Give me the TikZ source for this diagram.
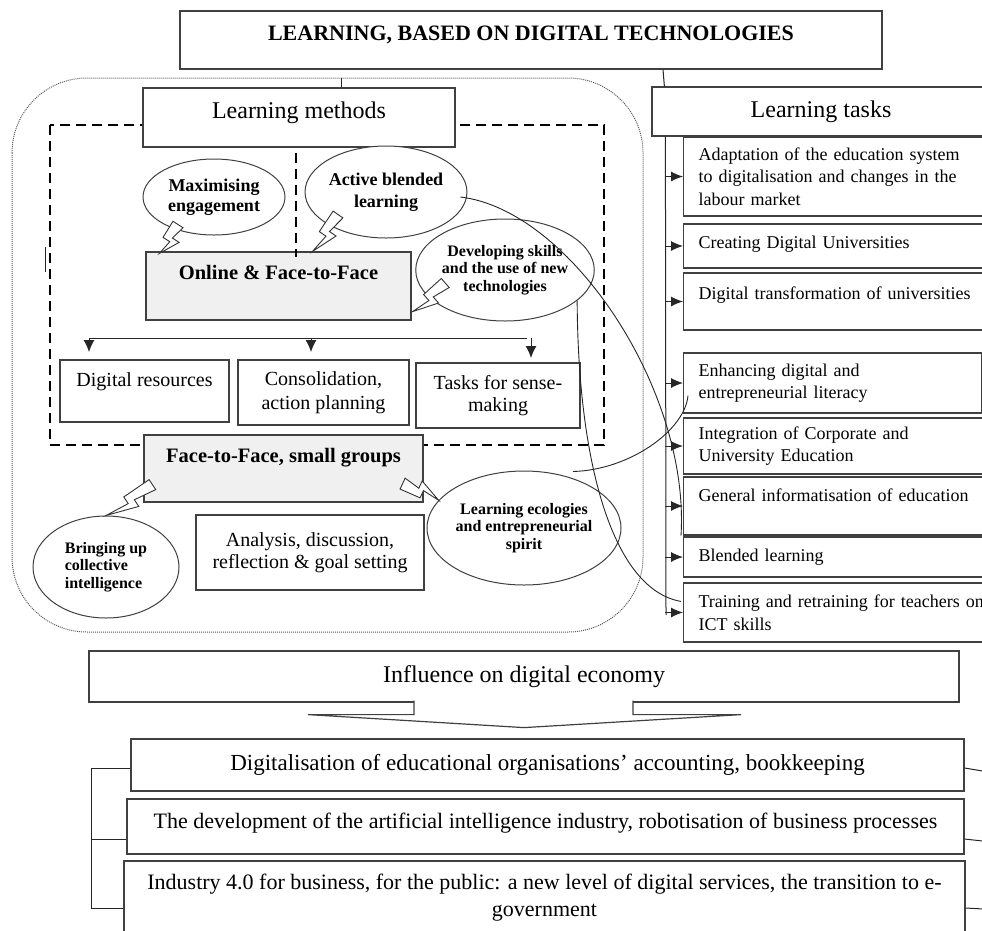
\documentclass[tikz,border=0pt]{standalone}
\usepackage{fontspec}
\setmainfont{Liberation Serif}
\usetikzlibrary{positioning}
\usetikzlibrary{calc}
\usetikzlibrary{shapes.geometric}
\usetikzlibrary{arrows.meta}

\newcommand{\boltto}[2]{%
	\draw[bolt] ($(#1)!6pt!-90:(#2)$) -- ($(#1)!6pt!90:(#2)$)
		-- ($(#1)!0.42!(#2)!2.6pt!90:(#2)$) -- ($(#1)!0.42!(#2)!10.6pt!90:(#2)$)
		-- (#2) -- ($(#1)!0.55!(#2)!2.4pt!90:(#2)$)
		-- ($(#1)!0.55!(#2)!5.6pt!-90:(#2)$) -- cycle;}

\begin{document}
\begin{tikzpicture}[x=1pt, y=-1pt, >={Latex[length=12pt,width=10pt]}]
		\tikzset{box/.style = {shape=rectangle, draw=black!75, line width=1.2pt, fill=white, inner sep=3pt, align=center, font=\fontsize{20}{22}\selectfont}}
		\tikzset{shaded/.style = {box, fill=black!6, font=\fontsize{20.5}{24}\selectfont\bfseries}}
		\tikzset{task/.style = {box, anchor=west, inner xsep=15pt, inner ysep=2pt, align=left, text width=287pt, font=\fontsize{18}{22.5}\selectfont}}
		\tikzset{wide/.style = {box, font=\fontsize{22}{27}\selectfont}}
		\tikzset{bubble/.style = {shape=ellipse, draw=black!75, line width=1pt, fill=white, inner sep=0pt, align=center, font=\fontsize{16}{17.5}\selectfont\bfseries}}
		\tikzset{bolt/.style = {draw=black!80, line width=0.9pt, fill=white, line join=miter}}
		\tikzset{link/.style = {draw=black!85, line width=1pt}}
		\tikzset{dashline/.style = {line width=1.8pt, dash pattern=on 10pt off 6pt}}
		\tikzset{down/.style = {link, -{Latex[length=12pt,width=11pt]}}}
		\useasboundingbox (0,0) rectangle (982,930);
		\clip (0,0) rectangle (982,930);
		\draw[densely dotted, line width=1pt, black!65, rounded corners=75pt] (12,78) rectangle (643,632);
		\draw[dashline] (50,125) rectangle (604,445);
		
		\node[box, minimum width=702pt, minimum height=58pt, text depth=14pt, font=\fontsize{22}{26}\selectfont\bfseries] (TOP) at (531,40) {LEARNING, BASED ON DIGITAL TECHNOLOGIES};
		\node[box, minimum width=312pt, minimum height=59pt, text depth=15pt, font=\fontsize{24}{28}\selectfont] (METHODS) at (299,117.5) {Learning methods};
		\node[box, minimum width=338pt, minimum height=49pt, font=\fontsize{24}{28}\selectfont] (TASKS) at (821,111.5) {Learning tasks};
		
		\node[shaded, minimum width=265pt, minimum height=68pt, text depth=28pt] (ONLINE) at (278.5,286) {Online \& Face-to-Face};
		\node[box, minimum width=169pt, minimum height=62pt, text depth=22pt] (RES) at (144.5,391) {Digital resources};
		\node[box, minimum width=171pt, minimum height=65pt, font=\fontsize{20}{24}\selectfont] (CONS) at (323.5,392.5) {Consolidation,\\action planning};
		\node[box, minimum width=164pt, minimum height=65pt] (SENSE) at (498,395.5) {Tasks for sense-\\making};
		\node[shaded, minimum width=279pt, minimum height=67pt, text depth=27pt] (SMALL) at (283.5,468.5) {Face-to-Face, small groups};
		\node[box, minimum width=228pt, minimum height=75pt] (ANALYSIS) at (310,552.5) {Analysis, discussion,\\reflection \& goal setting};
		
		\node[bubble, minimum width=142pt, minimum height=76pt, font=\fontsize{18}{20}\selectfont\bfseries] (MAX) at (214,197) {Maximising\\engagement};
		\node[bubble, minimum width=158pt, minimum height=92pt, font=\fontsize{18}{22}\selectfont\bfseries] (ACTIVE) at (386,192) {Active blended\\learning};
		\node[bubble, minimum width=176pt, minimum height=102pt] (SKILLS) at (505,270) {Developing skills\\and the use of new\\technologies};
		\node[bubble, minimum width=146pt, minimum height=102pt, align=left] (COLLECT) at (106,567) {Bringing up\\collective\\intelligence};
		\node[bubble, minimum width=194pt, minimum height=114pt] (ECO) at (524,528) {Learning ecologies\\and entrepreneurial\\spirit};
		
		\node[task, minimum height=79pt] (T1) at (683,176.5) {Adaptation of the education system\\to digitalisation and changes in the\\labour market};
		\node[task, minimum height=44pt, text depth=8pt] (T2) at (683,246) {Creating Digital Universities};
		\node[task, minimum height=57pt, text depth=17pt] (T3) at (683,301.5) {Digital transformation of universities};
		\node[task, minimum height=60pt, text width=268pt] (T4) at (683,383) {Enhancing digital and\\entrepreneurial literacy};
		\node[task, minimum height=56pt] (T5) at (683,446) {Integration of Corporate and\\University Education};
		\node[task, minimum height=58pt, text depth=22pt] (T6) at (683,506) {General informatisation of education};
		\node[task, minimum height=40pt] (T7) at (683,557) {Blended learning};
		\node[task, minimum height=59pt] (T8) at (683,612.5) {Training and retraining for teachers on\\ICT skills};
		
		\node[wide, minimum width=870pt, minimum height=51pt, font=\fontsize{24}{28}\selectfont] (INFL) at (524,676.5) {Influence on digital economy};
		\node[wide, minimum width=833pt, minimum height=52pt, font=\fontsize{23}{27}\selectfont] (DIG) at (547.5,765) {Digitalisation of educational organisations' accounting, bookkeeping};
		\node[wide, minimum width=837pt, minimum height=55pt, text depth=11pt] (DEV) at (545.5,826.5) {The development of the artificial intelligence industry, robotisation of business processes};
		\node[wide, minimum width=841pt, minimum height=74pt] (IND) at (544.5,898) {Industry 4.0 for business, for the public: a new level of digital services, the transition to e-\\government};
		
		\draw[link, line width=1.2pt, draw=black!75, fill=white] ($(INFL.south)+(-110,-2)$) -- ++(0,14) -- ($(INFL.south)+(-216,12)$) -- ($(INFL.south)+(0,25)$) -- ($(INFL.south)+(217,12)$) -- ($(INFL.south)+(109,12)$) -- ++(0,-14);
		
		\coordinate (BR1) at (91,768);
		\coordinate (BR2) at (91,839);
		\coordinate (BR3) at (91,908);
		\draw[link] (BR1 -| DIG.west) -- (BR1) -- (BR3) -- (BR3 -| IND.west);
		\draw[link] (BR2) -- (BR2 -| DEV.west);
		\draw[link] (BR1 -| DIG.east) -- ++(18,3);
		\draw[link] (BR2 -| DEV.east) -- ++(18,2);
		\draw[link] (BR3 -| IND.east) -- ++(18,1);
		
		\coordinate (BUSW) at (89,338);
		\coordinate (BUSM) at (311,338);
		\coordinate (BUSE) at (527,338);
		\draw[link] (BUSW) -- (BUSE);
		\draw[down] (BUSW) -- ++(0,14);
		\draw[down] (BUSM) -- ++(0,14);
		\draw[down] ($(BUSE)+(4,0)$) -- ++(0,20);
		
		\coordinate (RAIL) at ($(TASKS.south west)+(14,0)$);
		\coordinate (RAILEND) at (666,615);
		\draw[link] (RAIL) -- (RAILEND);
		\draw[link, ->] (RAIL |- T1.west) -- (T1.west);
		\draw[link, ->] (RAIL |- T2.west) -- (T2.west);
		\draw[link, ->] (RAIL |- T3.west) -- (T3.west);
		\draw[link, ->] (RAIL |- T4.west) -- (T4.west);
		\draw[link, ->] (RAIL |- T5.west) -- (T5.west);
		\draw[link, ->] (RAIL |- T6.west) -- (T6.west);
		\draw[link, ->] (RAIL |- T7.west) -- (T7.west);
		\draw[link, ->] (RAIL |- T8.west) -- (T8.west);
		
		\draw[link] ($(TOP.south)+(132,0)$) -- ($(TASKS.north west)+(13,0)$);
		\draw[link] ($(METHODS.north)+(42,0)$) -- ++(0,-9);
		\draw[dashline] ($(METHODS.south)+(-3,5)$) -- ($(ONLINE.north)+(17.5,6)$);
		\draw[link] (45,247) -- (45,272);
		
		\coordinate (Z1) at ($(MAX.south)+(-36,-11)$);
		\coordinate (Z2) at ($(ACTIVE.south)+(-48,-24)$);
		\coordinate (Z3) at ($(SKILLS.west)+(30,13)$);
		\coordinate (Z4) at ($(SMALL.south west)+(9,-18)$);
		\coordinate (Z5) at ($(SMALL.south east)+(-21,-19)$);
		\coordinate (P1) at ($(ONLINE.north west)+(14,2)$);
		\coordinate (P2) at ($(ONLINE.north)+(34,0)$);
		\coordinate (P3) at ($(ONLINE.south east)+(1,-9)$);
		\boltto{Z1}{P1}
		\boltto{Z2}{P2}
		\boltto{Z3}{P3}
		\boltto{Z4}{COLLECT.north}
		\boltto{Z5}{ECO.162}
		
		\draw[link, line width=0.9pt] ($(ACTIVE.east)+(-7,5)$) .. controls (570,210) and (690,390) .. ($(T6.south west)+(-2,0)$);
		\draw[link, line width=0.9pt] (SKILLS.-23) .. controls (578,470) and (615,590) .. ($(T8.north west)+(-2,19)$);
		\draw[link, line width=0.9pt] ($(ECO.north)+(49,1)$) .. controls (630,470) and (685,430) .. ($(T4.south west)+(5,-18)$);
\end{tikzpicture}
\end{document}
